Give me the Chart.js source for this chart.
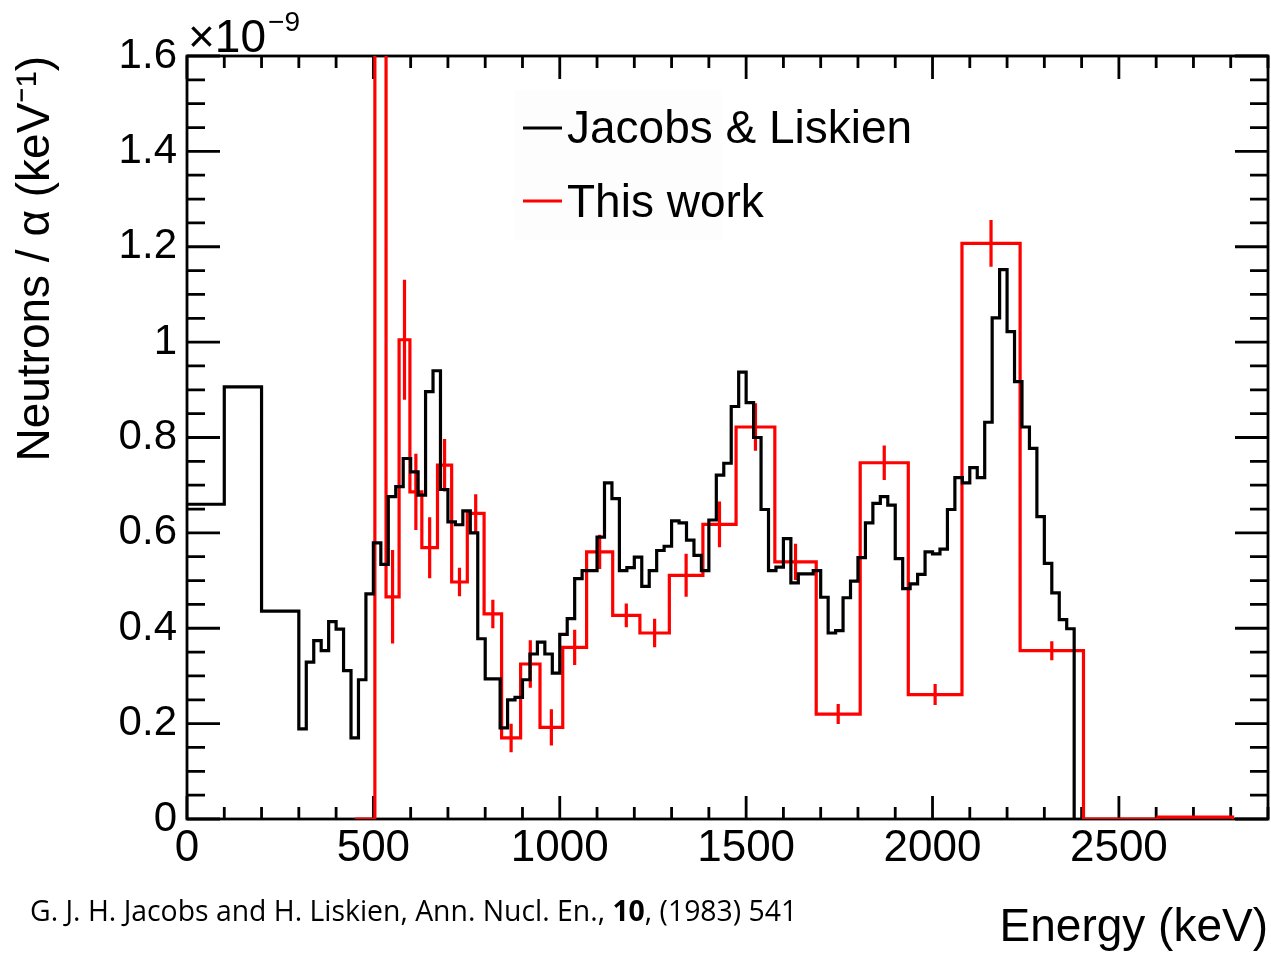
<!DOCTYPE html>
<html>
<head>
<meta charset="utf-8">
<script src="https://cdn.jsdelivr.net/npm/chart.js@4.4.1/dist/chart.umd.min.js"></script>
<style>
  html, body { margin: 0; padding: 0; background: #fff; }
  #wrap { position: relative; width: 1271px; height: 956px; }
  #spectrum { position: absolute; left: 0; top: 0; }
  #ref {
    position: absolute; left: 30px; top: 890px;
    font-family: "Open Sans", "Noto Sans", sans-serif; font-size: 29px;
    white-space: nowrap; transform-origin: 0 0; color: #000;
  }
</style>
</head>
<body>
<div id="wrap">
  <canvas id="spectrum" width="1271" height="956"></canvas>
  <div id="ref">G. J. H. Jacobs and H. Liskien, Ann. Nucl. En., <b>10</b>, (1983) 541</div>
</div>
<script>
// Jacobs & Liskien spectrum: three wide bins, then 20 keV bins from 300 keV
const jlWideEdges = [0, 100, 200, 300];
const jlWideValues = [0.660, 0.906, 0.436];
const jlFineStart = 300;
const jlFineWidth = 20;
const jlFineValues = [
  0.189, 0.329, 0.374, 0.353, 0.414, 0.398, 0.311, 0.170, 0.292, 0.472,
  0.579, 0.534, 0.676, 0.697, 0.756, 0.728, 0.679, 0.896, 0.940, 0.691,
  0.623, 0.617, 0.646, 0.600, 0.378, 0.294, 0.294, 0.191, 0.250, 0.255,
  0.292, 0.346, 0.371, 0.346, 0.306, 0.387, 0.420, 0.504, 0.521, 0.521,
  0.591, 0.705, 0.672, 0.521, 0.527, 0.549, 0.488, 0.521, 0.563, 0.572,
  0.625, 0.621, 0.585, 0.553, 0.521, 0.627, 0.721, 0.746, 0.865, 0.937,
  0.873, 0.800, 0.649, 0.521, 0.528, 0.588, 0.495, 0.514, 0.514, 0.521,
  0.465, 0.390, 0.395, 0.464, 0.499, 0.548, 0.621, 0.662, 0.676, 0.658,
  0.546, 0.483, 0.493, 0.513, 0.560, 0.556, 0.566, 0.649, 0.716, 0.705,
  0.737, 0.716, 0.832, 1.051, 1.152, 1.022, 0.917, 0.822, 0.777, 0.634,
  0.536, 0.474, 0.418, 0.399
];

// This work: variable bins (keV), value and error per bin (units of 1e-9 / keV)
const twEdges = [450, 504, 534, 569, 598, 630, 672, 710, 752, 797, 844, 895, 947, 1008,
  1072, 1142, 1215, 1294, 1384, 1473, 1577, 1688, 1806, 1935, 2079, 2235, 2405, 2605, 2805];
const twValues = [0, 2.6, 0.466, 1.005, 0.686, 0.569, 0.742, 0.497, 0.641, 0.430, 0.170,
  0.325, 0.192, 0.360, 0.560, 0.427, 0.390, 0.511, 0.618, 0.822, 0.539, 0.220, 0.747,
  0.261, 1.207, 0.353, 0, 0.004];
const twErrors = [0, 0.3, 0.098, 0.126, 0.080, 0.064, 0.055, 0.030, 0.040, 0.030, 0.030,
  0.050, 0.038, 0.037, 0.036, 0.025, 0.030, 0.045, 0.048, 0.050, 0.038, 0.021, 0.036,
  0.022, 0.049, 0.020, 0, 0];

const xTicks = [0, 500, 1000, 1500, 2000, 2500];
const yTicks = [0, 0.2, 0.4, 0.6, 0.8, 1, 1.2, 1.4, 1.6];

const FONT = '"Liberation Sans", Arial, Helvetica, sans-serif';

// step histogram points: value held from each edge to the next
function histPoints(edges, values, endValue) {
  const pts = values.map((v, i) => ({ x: edges[i], y: v }));
  pts.push({ x: edges[edges.length - 1], y: endValue });
  return pts;
}

const jlEdges = jlWideEdges.slice();
jlFineValues.forEach((v, i) => jlEdges.push(jlFineStart + (i + 1) * jlFineWidth));
const jlPts = histPoints(jlEdges, jlWideValues.concat(jlFineValues), 0);
const twPts = histPoints(twEdges, twValues, 0);

// vertical error bars at bin centres, separated by gaps
const twErrPts = [];
twValues.forEach((v, i) => {
  if (!twErrors[i]) return;
  const c = (twEdges[i] + twEdges[i + 1]) / 2;
  twErrPts.push({ x: c, y: v - twErrors[i] }, { x: c, y: v + twErrors[i] }, { x: c, y: null });
});

// ROOT-like frame with inward ticks on all four sides
const frameTicks = {
  id: 'frameTicks',
  beforeDatasetsDraw(chart) {
    const { ctx, chartArea: a, scales: { x, y } } = chart;
    ctx.save();
    ctx.strokeStyle = '#000';
    ctx.lineWidth = 2.8;
    ctx.strokeRect(a.left, a.top, a.right - a.left, a.bottom - a.top);
    ctx.beginPath();
    for (let e = 0; e <= x.max; e += 100) {
      const px = x.getPixelForValue(e);
      const len = e % 500 === 0 ? 23 : 12;
      ctx.moveTo(px, a.bottom); ctx.lineTo(px, a.bottom - len);
      ctx.moveTo(px, a.top); ctx.lineTo(px, a.top + len);
    }
    for (let k = 0; k <= 32; k++) {
      const py = y.getPixelForValue(k * 0.05);
      const len = k % 4 === 0 ? 33 : 18;
      ctx.moveTo(a.left, py); ctx.lineTo(a.left + len, py);
      ctx.moveTo(a.right, py); ctx.lineTo(a.right - len, py);
    }
    ctx.stroke();
    ctx.restore();
  }
};

// x10^-9 multiplier above the y axis
const exponent = {
  id: 'exponent',
  afterDraw(chart) {
    const { ctx, chartArea: a } = chart;
    ctx.save();
    ctx.fillStyle = '#000';
    ctx.textBaseline = 'alphabetic';
    ctx.font = '46px ' + FONT;
    ctx.fillText('×10', a.left + 1, 52);
    const w = ctx.measureText('×10').width;
    ctx.font = '28px ' + FONT;
    ctx.fillText('−9', a.left + 3 + w, 31);
    ctx.restore();
  }
};

// legend box inside the frame
const legendBox = {
  id: 'legendBox',
  afterDraw(chart) {
    const { ctx } = chart;
    const items = [
      { label: 'Jacobs & Liskien', color: '#000', y: 128, base: 143 },
      { label: 'This work', color: '#ff0000', y: 201, base: 217 }
    ];
    ctx.save();
    ctx.fillStyle = 'rgba(0,0,0,0.007)';
    ctx.fillRect(515, 90, 207, 150);
    ctx.font = '46px ' + FONT;
    ctx.textBaseline = 'alphabetic';
    items.forEach(it => {
      ctx.strokeStyle = it.color;
      ctx.lineWidth = 3;
      ctx.beginPath();
      ctx.moveTo(523, it.y); ctx.lineTo(562, it.y);
      ctx.stroke();
      ctx.fillStyle = '#000';
      ctx.fillText(it.label, 567, it.base);
    });
    ctx.restore();
  }
};

new Chart(document.getElementById('spectrum'), {
  type: 'line',
  data: {
    datasets: [
      { label: 'Jacobs & Liskien', data: jlPts, stepped: true, borderColor: '#000',
        borderWidth: 3.2, pointRadius: 0, fill: false },
      { label: 'This work', data: twPts, stepped: true, borderColor: '#ff0000',
        borderWidth: 3.2, pointRadius: 0, fill: false },
      { label: 'This work errors', data: twErrPts, borderColor: '#ff0000',
        borderWidth: 3.2, pointRadius: 0, fill: false, spanGaps: false }
    ]
  },
  options: {
    responsive: false,
    animation: false,
    events: [],
    layout: { padding: { top: 56, right: 3, bottom: 0, left: 0 } },
    plugins: { legend: { display: false }, tooltip: { enabled: false } },
    scales: {
      x: {
        type: 'linear', min: 0, max: 2900,
        grid: { display: false, drawTicks: false },
        border: { display: false },
        afterBuildTicks: s => { s.ticks = xTicks.map(v => ({ value: v })); },
        ticks: { padding: 3, color: '#000', maxRotation: 0, autoSkip: false,
                 font: { family: FONT, size: 44 }, callback: v => String(v) },
        title: { display: true, text: 'Energy (keV)', align: 'end', color: '#000',
                 font: { family: FONT, size: 46 }, padding: { top: 0, bottom: 0 } },
        afterFit: s => { s.height = 137; }
      },
      y: {
        type: 'linear', min: 0, max: 1.6,
        grid: { display: false, drawTicks: false },
        border: { display: false },
        afterBuildTicks: s => { s.ticks = yTicks.map(v => ({ value: v })); },
        ticks: { padding: 10, color: '#000', font: { family: FONT, size: 42 },
                 callback: v => String(+v.toFixed(1)) },
        title: { display: true, text: 'Neutrons / α (keV⁻¹)', align: 'end', color: '#000',
                 font: { family: FONT, size: 46 }, padding: { top: 9, bottom: 0 } },
        afterFit: s => { s.width = 187; }
      }
    }
  },
  plugins: [frameTicks, exponent, legendBox]
});

// squeeze the reference line to its printed width
const ref = document.getElementById('ref');
ref.style.transform = 'scaleX(' + (767 / ref.offsetWidth) + ')';
</script>
</body>
</html>
